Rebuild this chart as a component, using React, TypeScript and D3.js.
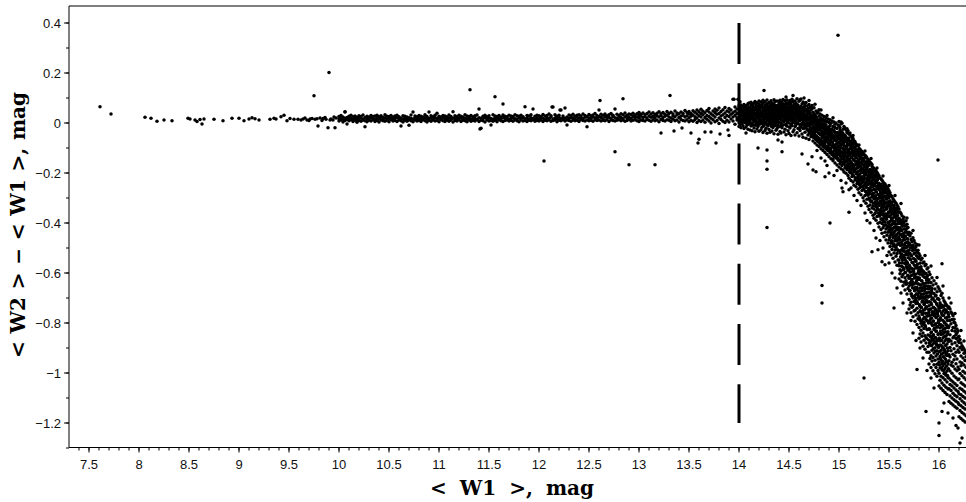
import * as d3 from "d3";
import { useLayoutEffect, useRef } from "react";

const W = 966;
const H = 502;
const left = 69;
const right = 966;
const top = 6;
const bottom = 447.5;

// axis ticks
const xTicks = [7.5, 8, 8.5, 9, 9.5, 10, 10.5, 11, 11.5, 12, 12.5, 13, 13.5, 14, 14.5, 15, 15.5, 16];
const xTickLabels = ["7.5", "8", "8.5", "9", "9.5", "10", "10.5", "11", "11.5", "12", "12.5", "13", "13.5", "14", "14.5", "15", "15.5", "16"];
const yTicks = [0.4, 0.2, 0, -0.2, -0.4, -0.6, -0.8, -1, -1.2];
const yTickLabels = ["0.4", "0.2", "0", "\u22120.2", "\u22120.4", "\u22120.6", "\u22120.8", "\u22121", "\u22121.2"];

// W1 limit (dashed line) and its extent in colour
const cutW1 = 14;
const cutRange = [0.4, -1.2];

// sparse bright stars: [W1, W2-W1] in mag
const brightStars = [
  [7.61, 0.065], [7.72, 0.036], [8.06, 0.023], [8.12, 0.019], [8.18, 0.007], [8.25, 0.012], [8.33, 0.009],
  [8.49, 0.019], [8.51, 0.016], [8.56, 0.012], [8.58, 0.006], [8.61, 0.014], [8.63, -0.004], [8.65, 0.016],
  [8.75, 0.015], [8.84, 0.009], [8.93, 0.019], [9.0, 0.019], [9.05, 0.009], [9.1, 0.016], [9.13, 0.021],
  [9.16, 0.017], [9.2, 0.012], [9.31, 0.015], [9.35, 0.019], [9.37, 0.016], [9.42, 0.025], [9.45, 0.031],
  [9.48, 0.009], [9.51, 0.018], [9.55, 0.015], [9.59, 0.015], [9.62, 0.012], [9.64, 0.016], [9.66, 0.02],
  [9.68, 0.012], [9.7, 0.01], [9.71, 0.016], [9.73, 0.018], [9.75, 0.109], [9.76, 0.015], [9.78, 0.017],
  [9.79, -0.012], [9.81, 0.02], [9.83, 0.01], [9.84, 0.018], [9.86, 0.022], [9.87, 0.015], [9.89, -0.019],
  [9.9, 0.202], [9.91, 0.012], [9.92, 0.016], [9.94, 0.012], [9.95, 0.024], [9.96, -0.019], [9.97, 0.02],
];

// sequence columns: [W1 (mag), W2-W1 values (mmag)]
const flatBand = [
  [10.0, [8, 17, 26]], [10.02, [12, 21, 30]], [10.04, [4, 15, 24]], [10.06, [10, 19, 44]], [10.08, [-4, 14, 22]],
  [10.1, [9, 18, 27]], [10.12, [13, 20, 31]], [10.14, [6, 16, 25]], [10.16, [11, 19, 28]], [10.18, [3, 14, 23]],
  [10.2, [10, 17, 29]], [10.22, [7, 20, 26]], [10.24, [12, 15, 32]], [10.26, [-15, 9, 22]], [10.28, [5, 18, 27]],
  [10.3, [11, 16, 24]], [10.32, [8, 21, 30]], [10.34, [13, 19, 26]], [10.36, [6, 15, 28]], [10.38, [10, 22, 31]],
  [10.4, [4, 17, 25]], [10.42, [12, 18, 29]], [10.44, [9, 14, 23]], [10.46, [7, 20, 33]], [10.48, [11, 16, 27]],
  [10.5, [5, 19, 26]], [10.52, [13, 21, 30]], [10.54, [8, 15, 24]], [10.56, [10, 18, 28]], [10.58, [6, 22, 31]],
  [10.6, [12, 17, 25]], [10.62, [-12, 9, 20]], [10.64, [4, 16, 29]], [10.66, [11, 19, 27]], [10.68, [7, 14, 24]],
  [10.7, [-9, 13, 21]], [10.72, [9, 18, 32]], [10.74, [5, 16, 44]], [10.76, [12, 20, 28]], [10.78, [8, 17, 25]],
  [10.8, [10, 22, 30]], [10.82, [6, 15, 27]], [10.84, [13, 19, 24]], [10.86, [9, 21, 33]], [10.88, [4, 16, 26]],
  [10.9, [11, 18, 44]], [10.92, [7, 20, 29]], [10.94, [12, 15, 25]], [10.96, [8, 22, 31]], [10.98, [10, 17, 39]],
  [11.0, [5, 19, 27]], [11.02, [13, 16, 24]], [11.04, [9, 21, 30]], [11.06, [6, 18, 28]], [11.08, [11, 15, 25]],
  [11.1, [7, 20, 32]], [11.12, [12, 17, 26]], [11.14, [4, 19, 45]], [11.16, [10, 22, 29]], [11.18, [8, 16, 25]],
  [11.2, [13, 18, 31]], [11.22, [6, 21, 27]], [11.24, [11, 15, 24]], [11.26, [9, 19, 33]], [11.28, [5, 17, 28]],
  [11.3, [12, 22, 26]], [11.32, [7, 16, 30]], [11.34, [10, 20, 25]], [11.36, [8, 18, 29]], [11.38, [13, 15, 32]],
  [11.4, [6, 21, 56]], [11.42, [-21, 11, 19]], [11.44, [9, 17, 27]], [11.46, [4, 22, 31]], [11.48, [12, 16, 25]],
  [11.5, [8, 20, 29]], [11.52, [-8, 10, 18]], [11.54, [7, 15, 33]], [11.56, [11, 21, 28]], [11.58, [5, 17, 26]],
  [11.6, [13, 19, 30]], [11.62, [9, 16, 24]], [11.64, [6, 22, 32]], [11.66, [10, 18, 27]], [11.68, [12, 20, 25]],
  [11.7, [8, 15, 31]], [11.72, [11, 19, 28]], [11.74, [7, 21, 26]], [11.76, [13, 17, 33]], [11.78, [9, 16, 29]],
  [11.8, [5, 20, 27]], [11.82, [12, 18, 31]], [11.84, [8, 22, 25]], [11.86, [10, 17, 65]], [11.88, [6, 19, 30]],
  [11.9, [11, 15, 28]], [11.92, [9, 21, 33]], [11.94, [13, 18, 56]], [11.96, [7, 16, 27]], [11.98, [10, 20, 31]],
  [12.0, [8, 17, 29]], [12.02, [12, 22, 26]], [12.04, [6, 19, 34]], [12.06, [11, 15, 28]], [12.08, [9, 21, 30]],
  [12.1, [13, 18, 36]], [12.12, [7, 24, 29]], [12.14, [10, 16, 64]], [12.16, [12, 20, 33]], [12.18, [5, 18, 27]],
  [12.2, [11, 23, 31]], [12.22, [9, 17, 52]], [12.24, [13, 21, 28]], [12.26, [8, 19, 60]], [12.28, [-8, 12, 24]],
  [12.3, [10, 18, 32]], [12.32, [7, 22, 29]], [12.34, [12, 20, 35]], [12.36, [9, 16, 27]], [12.38, [11, 24, 31]],
  [12.4, [6, 19, 33]], [12.42, [13, 21, 28]], [12.44, [10, 17, 36]], [12.46, [8, 23, 30]], [12.48, [-15, 12, 26]],
  [12.5, [9, 20, 34]], [12.52, [11, 18, 29]], [12.54, [7, 24, 32]], [12.56, [13, 21, 38]], [12.58, [10, 19, 30]],
  [12.6, [12, 26, 52]], [12.62, [8, 22, 35]], [12.64, [11, 17, 31]], [12.66, [9, 25, 36]], [12.68, [13, 20, 29]],
  [12.7, [6, 23, 33]], [12.72, [12, 18, 38]], [12.74, [10, 26, 31]], [12.76, [8, 21, 56]], [12.78, [11, 19, 35]],
  [12.8, [13, 24, 30]], [12.82, [9, 22, 37]], [12.84, [12, 17, 33]], [12.86, [7, 25, 40]], [12.88, [10, 20, 31]],
  [12.9, [14, 23, 36]], [12.92, [8, 18, 34]], [12.94, [11, 26, 39]], [12.96, [13, 21, 32]], [12.98, [9, 24, 37]],
  [13.0, [6, 19, 30, 42]], [13.02, [12, 27, 35]], [13.04, [10, 22, 40]], [13.06, [8, 25, 33]], [13.08, [14, 20, 38]],
  [13.1, [11, 28, 44]], [13.12, [7, 23, 36]], [13.14, [13, 26, 41]], [13.16, [9, 21, 34]], [13.18, [12, 29, 39]],
  [13.2, [5, 24, 45]], [13.22, [14, 30, 37]], [13.24, [10, 22, 42]], [13.26, [8, 27, 35]], [13.28, [13, 31, 46]],
  [13.3, [11, 24, 38]], [13.32, [6, 20, 43]], [13.34, [15, 28, 36]], [13.36, [9, 25, 48]], [13.38, [12, 33, 40]],
  [13.4, [4, 22, 37]], [13.42, [14, 27, 44]], [13.44, [10, 31, 39]], [13.46, [8, 24, 50]], [13.48, [13, 29, 42]],
  [13.5, [5, 21, 36, 46]], [13.52, [11, 27, 38]], [13.54, [7, 32, 49]], [13.56, [14, 25, 43]], [13.58, [2, 20, 36, 52]],
  [13.6, [10, 29, 45]], [13.62, [6, 24, 38, 55]], [13.64, [12, 33, 47]], [13.66, [3, 22, 41]], [13.68, [15, 30, 50]],
  [13.7, [8, 26, 44, 58]], [13.72, [0, 19, 37]], [13.74, [13, 31, 48]], [13.76, [5, 24, 42, 56]], [13.78, [10, 35, 51]],
  [13.8, [-2, 20, 38, 60]], [13.82, [14, 28, 46]], [13.84, [7, 33, 53]], [13.86, [2, 22, 40, 62]], [13.88, [11, 30, 48]],
  [13.9, [4, 26, 44, 58]], [13.92, [16, 35, 52]], [13.94, [8, 24, 41, 95]], [13.96, [-5, 30, 47, 64]], [13.98, [12, 21, 38, 56]],
];

const kneeBand = [
  [14.0, [-14, 9, 22, 41, 57, 69]], [14.01, [-6, 16, 33, 48, 63]], [14.02, [-19, 3, 28, 37, 55, 72]], [14.03, [-1, 13, 45, 52, 66]],
  [14.04, [-11, 20, 26, 39, 61]], [14.05, [-22, 6, 31, 47, 58, 74]], [14.06, [2, 17, 35, 50, 68]], [14.07, [-16, 11, 24, 43, 64]],
  [14.08, [-8, 27, 38, 56, 71]], [14.09, [-25, 1, 19, 46, 53, 77]], [14.1, [-4, 14, 30, 41, 62, 80]], [14.11, [-28, 8, 23, 49, 59]],
  [14.12, [-12, 18, 36, 44, 70, 83]], [14.13, [-31, -2, 27, 40, 57, 75]], [14.14, [-9, 12, 32, 51, 66]], [14.15, [-20, 4, 21, 45, 60, 79]],
  [14.16, [-35, 15, 29, 38, 63, 86]], [14.17, [-6, 10, 34, 54, 72]], [14.18, [-24, -1, 25, 42, 58, 81]], [14.19, [-14, 19, 31, 48, 67]],
  [14.2, [-33, 7, 22, 39, 55, 76, 88]], [14.21, [-3, 14, 37, 50, 69]], [14.22, [-27, 2, 26, 44, 61, 84]], [14.23, [-17, 11, 30, 47, 73]],
  [14.24, [-38, -5, 20, 35, 58, 79, 91]], [14.25, [-9, 16, 28, 52, 64]], [14.26, [-30, 5, 24, 41, 60, 85]], [14.27, [-21, -1, 33, 46, 71]],
  [14.28, [-41, 12, 19, 38, 56, 77, 92]], [14.29, [-12, 8, 29, 49, 66]], [14.3, [-26, -4, 23, 36, 54, 82]], [14.31, [-37, 15, 31, 44, 62, 74]],
  [14.32, [-7, 3, 26, 40, 59, 89]], [14.33, [-32, 10, 21, 48, 67, 80]], [14.34, [-18, -6, 34, 51, 71]], [14.35, [-43, 6, 25, 38, 57, 76, 93]],
  [14.36, [-10, 17, 30, 45, 63, 86]], [14.37, [-29, 1, 22, 52, 69]], [14.38, [-22, 13, 35, 42, 60, 88]], [14.39, [-45, -9, 27, 39, 55, 72]],
  [14.4, [-15, 5, 18, 47, 64, 84]], [14.41, [-34, 21, 33, 50, 66, 91]], [14.42, [-40, -2, 24, 43, 58, 78]], [14.43, [-19, 11, 36, 41, 61, 83]],
  [14.44, [-8, 26, 31, 53, 70, 94]], [14.45, [-36, 4, 20, 46, 57, 75]], [14.46, [-25, 14, 34, 40, 63, 89]], [14.47, [-47, -6, 23, 51, 68, 80]],
  [14.48, [-13, 9, 29, 44, 59, 92]], [14.49, [-31, 18, 37, 48, 65, 78]], [14.5, [-42, 0, 25, 39, 56, 85]], [14.51, [-20, 12, 32, 47, 62, 90]],
  [14.52, [-50, -8, 21, 43, 70, 81]], [14.53, [-11, 7, 28, 35, 54, 95]], [14.54, [-35, 16, 38, 49, 67, 86]], [14.55, [-27, 2, 24, 41, 58, 74]],
  [14.56, [-48, -14, 13, 33, 60, 88]], [14.57, [-4, 8, 30, 46, 64, 79]], [14.58, [-39, 19, 26, 45, 69, 97]], [14.59, [-22, -3, 22, 37, 53, 72]],
  [14.6, [-52, 10, 31, 48, 61, 87]], [14.61, [-30, -7, 18, 40, 57, 93]], [14.62, [-14, 14, 27, 44, 66, 96]], [14.63, [-44, 0, 23, 35, 52, 76]],
  [14.64, [-57, -21, 15, 38, 60, 84]], [14.65, [-9, 6, 29, 47, 63, 80]], [14.66, [-37, -5, 19, 33, 55, 71]], [14.67, [-61, -18, 10, 30, 49, 82]],
  [14.68, [-26, 1, 24, 42, 68]], [14.69, [-48, -11, 13, 36, 58]], [14.7, [-66, -35, 1, 24, 47, 74]], [14.71, [-22, -9, 16, 38, 63]],
  [14.72, [-55, -28, 10, 31, 52]], [14.73, [-41, -4, 14, 29, 58, 70]], [14.74, [-72, -47, -16, 22, 43]], [14.75, [-53, -27, 6, 36, 61]],
  [14.76, [-80, -38, -19, 12, 30]], [14.77, [-66, -52, -6, 25, 48]], [14.78, [-88, -31, -12, 17, 39]], [14.79, [-74, -58, -25, 4, 44]],
  [14.8, [-94, -66, -40, -9, 27, 53]], [14.81, [-82, -45, -21, 13, 36]], [14.82, [-103, -73, -29, -2, 19]], [14.83, [-89, -57, -41, 9, 31]],
  [14.84, [-110, -80, -50, -18, 15]], [14.85, [-97, -35, -12, 5, 26]], [14.86, [-118, -88, -63, -26, 10]], [14.87, [-104, -71, -44, -7, 20]],
  [14.88, [-126, -95, -58, -33, 6]], [14.89, [-111, -79, -48, -16, 16]], [14.9, [-135, -102, -68, -37, -20, 2]], [14.91, [-120, -86, -55, -10, 13]],
  [14.92, [-143, -110, -75, -46, -1]], [14.93, [-127, -92, -61, -24, 8]], [14.94, [-151, -118, -84, -52, -14]], [14.95, [-133, -100, -66, -30, 4]],
  [14.96, [-160, -125, -91, -57, -18, -5]], [14.97, [-140, -107, -72, -39, 0]], [14.98, [-168, -131, -97, -63, -22]], [14.99, [-148, -114, -79, -44, -8]],
];

const faintBand = [
  [15.0, [-176, -150, -96, -81, -47, -12, 6]], [15.01, [-162, -123, -109, -64, -30, -18]], [15.02, [-183, -137, -88, -71, -55, -4]],
  [15.03, [-170, -144, -117, -59, -36, -1]], [15.04, [-188, -129, -101, -78, -42, -25]], [15.05, [-196, -158, -140, -92, -61, -14]],
  [15.06, [-179, -131, -113, -70, -49, -20]], [15.07, [-201, -167, -121, -104, -57, -28]], [15.08, [-186, -152, -95, -79, -38, -23]],
  [15.09, [-210, -174, -133, -118, -66, -31]], [15.1, [-221, -169, -146, -107, -60, -45]], [15.11, [-198, -182, -127, -89, -74, -40]],
  [15.12, [-230, -191, -155, -139, -98, -52]], [15.13, [-214, -162, -120, -103, -68, -56]], [15.14, [-236, -208, -177, -131, -86, -62]],
  [15.15, [-249, -196, -149, -124, -97, -71]], [15.16, [-228, -185, -168, -112, -80, -75]], [15.17, [-255, -219, -160, -138, -93, -84]],
  [15.18, [-242, -203, -181, -126, -108, -88]], [15.19, [-265, -222, -171, -150, -115, -91]], [15.2, [-279, -237, -212, -163, -131, -102]],
  [15.21, [-258, -226, -189, -144, -120, -105]], [15.22, [-287, -244, -199, -176, -137, -111]], [15.23, [-270, -215, -192, -158, -128, -114]],
  [15.24, [-299, -253, -231, -184, -147, -119]], [15.25, [-312, -263, -221, -170, -152, -126]], [15.26, [-290, -248, -207, -188, -139, -130]],
  [15.27, [-321, -274, -236, -195, -160, -133]], [15.28, [-305, -281, -228, -179, -164, -140]], [15.29, [-333, -289, -245, -217, -172, -146]],
  [15.3, [-346, -302, -277, -233, -200, -168, -151]], [15.31, [-328, -310, -259, -214, -186, -157]], [15.32, [-357, -315, -268, -247, -205, -161]],
  [15.33, [-340, -296, -284, -231, -193, -174, -166]], [15.34, [-369, -331, -290, -252, -221, -178]], [15.35, [-381, -344, -303, -265, -240, -196, -182]],
  [15.36, [-362, -318, -297, -250, -213, -187]], [15.37, [-389, -352, -326, -275, -238, -209, -191]], [15.38, [-374, -337, -311, -262, -229, -198]],
  [15.39, [-401, -360, -322, -286, -254, -218, -204]], [15.4, [-416, -371, -348, -301, -266, -241, -211]], [15.41, [-397, -363, -319, -284, -257, -220]],
  [15.42, [-426, -384, -356, -312, -279, -246, -223]], [15.43, [-441, -402, -367, -330, -293, -262, -229]], [15.44, [-419, -389, -340, -306, -272, -236]],
  [15.45, [-455, -410, -378, -351, -314, -280, -248, -241]], [15.46, [-437, -396, -365, -322, -297, -258, -244]], [15.47, [-468, -424, -383, -344, -319, -276, -251]],
  [15.48, [-449, -412, -371, -336, -302, -268, -257]], [15.49, [-480, -437, -399, -361, -328, -289, -263]], [15.5, [-516, -468, -429, -403, -357, -324, -298, -271]],
  [15.51, [-494, -452, -418, -375, -343, -311, -279]], [15.52, [-527, -481, -446, -409, -368, -336, -290]], [15.53, [-506, -473, -427, -390, -359, -317, -295]],
  [15.54, [-541, -493, -458, -421, -380, -348, -303]], [15.55, [-520, -486, -439, -401, -366, -330, -310]], [15.56, [-556, -508, -470, -432, -394, -352, -316]],
  [15.57, [-533, -497, -451, -417, -379, -341, -321]], [15.58, [-569, -522, -487, -445, -404, -370, -328]], [15.59, [-548, -510, -465, -426, -391, -356, -335]],
  [15.6, [-624, -571, -548, -479, -455, -402, -381, -344]], [15.61, [-603, -587, -520, -466, -431, -419, -356]], [15.62, [-633, -592, -534, -509, -447, -390, -362]],
  [15.63, [-615, -560, -541, -488, -427, -408, -371]], [15.64, [-651, -606, -577, -512, -469, -450, -385]], [15.65, [-637, -584, -529, -501, -458, -396, -377]],
  [15.66, [-668, -619, -598, -540, -482, -437, -412]], [15.67, [-645, -631, -565, -519, -494, -426, -391]], [15.68, [-684, -641, -580, -556, -497, -463, -405]],
  [15.69, [-662, -609, -589, -527, -475, -443, -418]], [15.7, [-744, -706, -652, -621, -577, -509, -483, -437]], [15.71, [-728, -670, -639, -596, -544, -522, -452]],
  [15.72, [-759, -717, -684, -611, -580, -531, -466, -441]], [15.73, [-737, -693, -648, -626, -558, -497, -475]], [15.74, [-775, -731, -700, -637, -592, -560, -489, -459]],
  [15.75, [-752, -714, -662, -603, -584, -523, -470]], [15.76, [-793, -749, -690, -667, -615, -546, -505, -480]], [15.77, [-768, -722, -702, -641, -578, -552, -494]],
  [15.78, [-806, -741, -715, -658, -627, -571, -517, -486]], [15.79, [-783, -759, -688, -644, -600, -537, -509]], [15.8, [-861, -818, -772, -704, -679, -626, -583, -540, -523]],
  [15.81, [-844, -789, -751, -733, -661, -605, -561, -531]], [15.82, [-876, -829, -801, -738, -692, -648, -575, -548]], [15.83, [-853, -812, -763, -716, -670, -632, -589, -541]],
  [15.84, [-893, -840, -784, -759, -701, -644, -612, -560]], [15.85, [-869, -822, -797, -726, -683, -655, -598, -556]], [15.86, [-905, -851, -809, -745, -718, -663, -617, -571]],
  [15.87, [-880, -859, -786, -737, -694, -640, -602, -566]], [15.88, [-917, -863, -826, -772, -711, -679, -620, -584]], [15.89, [-894, -848, -794, -760, -697, -652, -629, -579]],
  [15.9, [-964, -917, -869, -823, -758, -731, -676, -627, -596]], [15.91, [-942, -886, -851, -788, -747, -693, -653, -606]], [15.92, [-978, -931, -873, -839, -780, -719, -681, -638]],
  [15.93, [-952, -909, -862, -805, -766, -705, -662, -619]], [15.94, [-991, -938, -884, -851, -793, -739, -701, -648]], [15.95, [-967, -920, -872, -826, -771, -756, -683, -631]],
  [15.96, [-1003, -949, -899, -861, -808, -742, -714, -664]], [15.97, [-978, -932, -881, -834, -779, -763, -690, -643]], [15.98, [-1013, -965, -911, -872, -817, -751, -727, -675]],
  [15.99, [-990, -944, -893, -846, -798, -770, -702, -655]], [16.0, [-1052, -1001, -957, -889, -861, -793, -741, -706, -663]], [16.01, [-1029, -980, -934, -872, -820, -785, -719, -672]],
  [16.02, [-1061, -1013, -948, -909, -846, -807, -738, -690]], [16.03, [-1040, -988, -962, -893, -833, -768, -729, -681]], [16.04, [-1070, -1019, -971, -920, -859, -812, -752, -700]],
  [16.05, [-1049, -1002, -937, -903, -840, -795, -733, -711]], [16.06, [-1078, -1027, -982, -916, -871, -822, -760, -718]], [16.07, [-1057, -1009, -955, -926, -852, -804, -749, -725]],
  [16.08, [-1086, -1036, -992, -930, -884, -818, -777, -731]], [16.09, [-1064, -1018, -964, -911, -866, -835, -758, -740]], [16.1, [-1114, -1063, -1021, -951, -927, -865, -812, -776, -736]],
  [16.11, [-1092, -1046, -992, -936, -898, -847, -790, -744]], [16.12, [-1121, -1070, -1029, -968, -911, -872, -803, -756]], [16.13, [-1100, -1052, -1001, -957, -884, -830, -786, -762]],
  [16.14, [-1128, -1081, -1036, -973, -925, -859, -818, -771]], [16.15, [-1107, -1060, -1012, -947, -903, -854, -797, -785]], [16.16, [-1135, -1089, -1043, -984, -932, -879, -833, -800]],
  [16.17, [-1113, -1068, -1019, -963, -917, -862, -846, -810]], [16.18, [-1141, -1095, -1050, -991, -944, -891, -839, -824]], [16.19, [-1119, -1074, -1027, -976, -908, -871, -857, -832]],
  [16.2, [-1175, -1126, -1083, -1024, -985, -917, -878, -853]], [16.21, [-1150, -1103, -1061, -1002, -956, -898, -866]], [16.22, [-1182, -1131, -1087, -1039, -971, -932, -880]],
  [16.23, [-1158, -1112, -1066, -1011, -960, -907, -891]], [16.24, [-1189, -1138, -1094, -1045, -993, -940, -898]], [16.25, [-1164, -1119, -1073, -1019, -968, -921, -904]],
  [16.26, [-1196, -1144, -1100, -1052, -1000, -950, -912]], [16.27, [-1171, -1126, -1080, -1027, -977, -935, -920]],
];

// dense core of the turn-off and faint sequence (between the columns above)
const coreBand = [
  [14.005, [4, 21, 38, 52]], [14.025, [-3, 15, 33, 47]], [14.045, [10, 26, 44, 58]], [14.065, [1, 18, 29, 50]],
  [14.085, [-6, 12, 36, 55]], [14.105, [7, 24, 41, 61]], [14.125, [-2, 19, 31, 48]], [14.145, [12, 27, 45, 63]],
  [14.165, [-9, 8, 35, 56]], [14.185, [3, 22, 39, 60]], [14.205, [-5, 14, 30, 52, 68]], [14.225, [9, 25, 43, 64]],
  [14.245, [-12, 6, 34, 49]], [14.265, [2, 20, 37, 58, 71]], [14.285, [-8, 16, 28, 53]], [14.305, [5, 23, 46, 66]],
  [14.325, [-14, 11, 32, 57]], [14.345, [-1, 18, 40, 62, 74]], [14.365, [8, 27, 44, 69]], [14.385, [-10, 4, 35, 55]],
  [14.405, [1, 21, 38, 60, 76]], [14.425, [-13, 13, 30, 51, 70]], [14.445, [6, 25, 47, 65]], [14.465, [-7, 17, 33, 58, 73]],
  [14.485, [3, 10, 42, 63]], [14.505, [-16, 20, 36, 54, 75]], [14.525, [-4, 12, 29, 49, 67]], [14.545, [7, 24, 45, 61]],
  [14.565, [-11, 15, 38, 56, 72]], [14.585, [0, 22, 31, 52, 66]], [14.605, [-19, 9, 27, 44, 63]], [14.625, [-6, 16, 35, 58]],
  [14.645, [-22, 4, 24, 41, 60]], [14.665, [-12, 13, 30, 50]], [14.685, [-28, -3, 19, 37, 55]],
  [14.705, [-41, -12, 19]], [14.715, [-29, 3, 31]], [14.725, [-50, -21, 8]], [14.735, [-36, -2, 24]], [14.745, [-58, -15, 12]],
  [14.755, [-44, -27, 17]], [14.765, [-63, -6, 9]], [14.775, [-52, -33, -1]], [14.785, [-70, -19, 6]], [14.795, [-61, -40, -8, 11]],
  [14.805, [-77, -26, 2]], [14.815, [-68, -47, -13]], [14.825, [-85, -31, -4]], [14.835, [-59, -38, -19]], [14.845, [-92, -71, -10]],
  [14.855, [-80, -45, -24, -2]], [14.865, [-98, -56, -15]], [14.875, [-74, -37, -29]], [14.885, [-106, -63, -21]], [14.895, [-90, -50, -34]],
  [14.905, [-112, -81, -44, -25]], [14.915, [-101, -67, -30]], [14.925, [-119, -55, -39]], [14.935, [-95, -76, -28]], [14.945, [-128, -88, -49]],
  [14.955, [-110, -62, -36]], [14.965, [-134, -97, -70, -41]], [14.975, [-118, -84, -53]], [14.985, [-141, -104, -66, -38]], [14.995, [-125, -93, -58]],
  [15.005, [-148, -113, -77, -44]], [15.015, [-131, -98, -63, -40]], [15.025, [-155, -86, -52]], [15.035, [-139, -120, -71, -47]], [15.045, [-162, -106, -80, -55]],
  [15.055, [-147, -128, -91, -60]], [15.065, [-170, -115, -73]], [15.075, [-154, -135, -99, -66]], [15.085, [-181, -142, -87, -62]], [15.095, [-163, -124, -108, -70]],
  [15.105, [-193, -150, -117, -83]], [15.115, [-172, -159, -102, -75]], [15.125, [-201, -138, -121, -88]], [15.135, [-185, -166, -111, -80]], [15.145, [-212, -176, -145, -95]],
  [15.155, [-193, -130, -118, -101]], [15.165, [-221, -184, -153, -106]], [15.175, [-204, -168, -139, -112]], [15.185, [-233, -195, -161, -123]], [15.195, [-214, -177, -148, -117]],
  [15.205, [-247, -206, -170, -134]], [15.215, [-229, -190, -157, -126]], [15.225, [-255, -218, -183, -141]], [15.235, [-238, -199, -166, -147]], [15.245, [-266, -227, -191, -152]],
  [15.255, [-249, -210, -176, -140]], [15.265, [-274, -239, -201, -164]], [15.275, [-258, -222, -186, -155]], [15.285, [-285, -247, -209, -170]], [15.295, [-268, -233, -196, -161]],
  [15.305, [-301, -262, -225, -188]], [15.315, [-283, -244, -210, -193]], [15.325, [-312, -270, -236, -199]], [15.335, [-294, -255, -218, -186]], [15.345, [-321, -281, -243, -207]],
  [15.355, [-304, -266, -229, -195]], [15.365, [-333, -291, -252, -217]], [15.375, [-314, -276, -238, -204]], [15.385, [-345, -302, -261, -226]], [15.395, [-326, -287, -249, -212]],
  [15.405, [-372, -330, -291, -253]], [15.415, [-351, -313, -274, -247]], [15.425, [-384, -341, -300, -262]], [15.435, [-362, -323, -283, -255]], [15.445, [-395, -352, -312, -271]],
  [15.455, [-373, -334, -293, -266]], [15.465, [-407, -364, -321, -280]], [15.475, [-385, -344, -305, -274]], [15.485, [-418, -375, -333, -290]], [15.495, [-396, -356, -315, -283]],
  [15.505, [-459, -414, -372, -331]], [15.515, [-437, -393, -352, -320]], [15.525, [-471, -426, -383, -341]], [15.535, [-448, -404, -361, -328]], [15.545, [-483, -438, -394, -350]],
  [15.555, [-460, -416, -373, -339]], [15.565, [-495, -450, -405, -360]], [15.575, [-472, -427, -384, -348]], [15.585, [-507, -461, -417, -370]], [15.595, [-484, -439, -395, -357]],
  [15.605, [-560, -512, -466, -421, -384]], [15.615, [-536, -490, -445, -402]], [15.625, [-573, -524, -478, -431, -393]], [15.635, [-549, -502, -455, -413]], [15.645, [-586, -537, -489, -442, -401]],
  [15.655, [-561, -514, -467, -424]], [15.665, [-598, -549, -500, -452, -410]], [15.675, [-574, -527, -478, -436]], [15.685, [-611, -561, -512, -463, -419]], [15.695, [-586, -539, -490, -446]],
  [15.705, [-671, -620, -570, -521, -483]], [15.715, [-646, -596, -547, -500]], [15.725, [-684, -632, -582, -531, -491]], [15.735, [-659, -608, -558, -510]], [15.745, [-696, -645, -593, -542, -499]],
  [15.755, [-671, -620, -569, -520]], [15.765, [-709, -657, -605, -553, -508]], [15.775, [-683, -632, -580, -531]], [15.785, [-721, -669, -617, -564, -517]], [15.795, [-695, -644, -591, -541]],
  [15.805, [-780, -727, -673, -620, -578]], [15.815, [-754, -701, -648, -597]], [15.825, [-792, -738, -684, -631, -586]], [15.835, [-766, -712, -659, -607]], [15.845, [-803, -749, -695, -642, -594]],
  [15.855, [-777, -723, -670, -617]], [15.865, [-815, -761, -706, -652, -602]], [15.875, [-789, -735, -681, -628]], [15.885, [-826, -772, -717, -663, -611]], [15.895, [-800, -746, -692, -638]],
  [15.905, [-880, -825, -770, -715, -662]], [15.915, [-854, -799, -744, -690]], [15.925, [-891, -836, -781, -726, -671]], [15.935, [-865, -810, -755, -700]], [15.945, [-902, -847, -792, -737, -681]],
  [15.955, [-876, -821, -766, -711]], [15.965, [-913, -858, -803, -748, -692]], [15.975, [-887, -832, -777, -722]], [15.985, [-924, -869, -814, -759, -703]], [15.995, [-898, -843, -788, -733]],
  [16.005, [-968, -915, -861, -806, -751]], [16.015, [-942, -888, -834, -779, -727]], [16.025, [-979, -925, -870, -815, -760]], [16.035, [-953, -899, -844, -789, -736]], [16.045, [-990, -935, -880, -825, -770]],
  [16.055, [-963, -909, -854, -799, -746]], [16.065, [-1000, -945, -890, -835, -780]], [16.075, [-973, -919, -864, -809, -756]], [16.085, [-1010, -955, -900, -845, -790]], [16.095, [-983, -929, -874, -819, -766]],
];

// stars scattered just outside the edges of the faint sequence: [W1, W2-W1] in mag
const bandScatter = [
  [14.78, -0.11], [14.82, -0.14], [14.88, -0.17], [14.95, -0.21], [14.98, -0.19], [15.02, -0.23], [15.07, -0.24],
  [15.12, -0.26], [15.15, -0.29], [15.18, -0.31], [15.22, -0.33], [15.26, -0.36], [15.28, -0.39], [15.31, -0.4],
  [15.35, -0.43], [15.37, -0.46], [15.41, -0.47], [15.44, -0.5], [15.48, -0.53], [15.5, -0.56], [15.53, -0.6],
  [15.56, -0.62], [15.58, -0.66], [15.62, -0.68], [15.64, -0.72], [15.68, -0.76], [15.72, -0.79], [15.74, -0.84],
  [15.77, -0.87], [15.81, -0.9], [15.84, -0.94], [15.88, -0.99], [15.92, -1.02], [15.95, -1.06], [16.05, -1.12],
  [16.09, -1.16], [16.14, -1.18], [16.17, -1.21],
  [14.7, 0.09], [14.76, 0.075], [14.82, 0.052], [14.88, 0.03], [14.94, 0.021], [15.02, 0.004], [15.08, -0.028],
  [15.14, -0.05], [15.2, -0.088], [15.26, -0.112], [15.32, -0.142], [15.38, -0.18], [15.44, -0.212], [15.5, -0.25],
  [15.56, -0.29], [15.62, -0.322], [15.68, -0.38], [15.74, -0.43], [15.8, -0.488], [15.86, -0.53], [15.92, -0.572],
  [15.98, -0.618], [16.04, -0.652], [16.1, -0.7], [16.16, -0.762], [16.22, -0.83], [16.25, -0.872],
];

// isolated points off the sequence: [W1, W2-W1] in mag
const outliers = [
  [11.31, 0.133], [11.56, 0.105], [11.64, 0.076], [12.61, 0.09], [12.84, 0.097], [13.31, 0.11], [14.25, 0.13],
  [13.95, 0.095], [13.99, 0.095], [14.54, 0.11], [14.65, 0.1], [14.99, 0.351], [15.99, -0.148], [12.05, -0.152],
  [12.76, -0.115], [12.9, -0.167], [13.16, -0.167], [14.28, -0.418], [14.91, -0.4], [15.1, -0.357], [14.83, -0.65],
  [14.83, -0.72], [15.25, -1.02], [15.78, -0.986], [15.87, -1.154], [16.0, -1.2], [16.0, -1.25], [16.19, -1.22],
  [16.21, -1.28], [16.23, -1.26], [16.03, -0.563], [15.55, -0.74], [15.33, -0.515], [15.39, -0.507], [15.43, -0.555],
  [15.46, -0.567], [16.12, -0.72], [16.16, -0.82], [16.03, -1.154], [14.19, -0.1], [14.28, -0.108], [14.28, -0.152],
  [14.28, -0.185], [14.43, -0.115], [13.59, -0.08], [13.6, -0.065], [13.77, -0.08], [13.52, -0.04], [13.66, -0.036],
  [13.72, -0.036], [13.81, -0.044], [13.89, -0.028], [14.07, -0.04], [13.43, -0.02], [13.22, -0.04], [14.63, -0.124],
  [14.73, -0.135], [14.69, -0.164], [14.74, -0.188], [14.77, -0.195], [14.86, -0.152], [14.86, -0.215], [14.9, -0.2],
  [14.94, -0.144], [15.03, -0.26], [15.04, -0.275], [15.1, -0.267], [14.43, -0.076], [14.39, -0.068], [12.13, 0.064],
  [12.21, 0.052], [10.06, 0.045], [11.41, -0.024], [13.35, -0.032], [13.9, -0.05], [14.01, 0.085], [14.47, 0.104],
];

const columnsToPoints = (cols) => cols.flatMap(([w1, cs]) => cs.map((c) => [w1, c / 1000]));

const points = [
  ...brightStars,
  ...columnsToPoints(flatBand),
  ...columnsToPoints(kneeBand),
  ...columnsToPoints(faintBand),
  ...columnsToPoints(coreBand),
  ...bandScatter,
  ...outliers,
];

const x = d3.scaleLinear().domain([7.3, 16.27]).range([left, right]);
const y = d3.scaleLinear().domain([-1.298, 0.468]).range([bottom, top]);

const xMinor = d3.range(74, 163).map((d) => d / 10);
const yMinor = d3.range(-13, 5).map((d) => d / 10);

// bold serif title, widened at the spaces to the reference width
function AxisTitle({ text, width, transform }) {
  const ref = useRef(null);
  useLayoutEffect(() => {
    const el = ref.current;
    if (!el) return;
    el.style.wordSpacing = "0px";
    const natural = el.getComputedTextLength();
    const spaces = (text.match(/ /g) || []).length;
    el.style.wordSpacing = `${Math.max(0, (width - natural) / spaces)}px`;
  }, [text, width]);
  return (
    <text ref={ref} transform={transform} textAnchor="middle" style={{ whiteSpace: "pre" }}>
      {text}
    </text>
  );
}

export default function App() {
  return (
    <div>
      <style>{"body{margin:0}"}</style>
      <svg width={W} height={H} style={{ display: "block", background: "#fff" }}>
        <defs>
          <clipPath id="plot">
            <rect x={left} y={top} width={right - left} height={bottom - top} />
          </clipPath>
        </defs>

        <g clipPath="url(#plot)" fill="#000">
          {points.map((p, i) => (
            <circle key={i} cx={x(p[0])} cy={y(p[1])} r={1.75} />
          ))}
        </g>

        <line
          x1={x(cutW1)}
          x2={x(cutW1)}
          y1={y(cutRange[0])}
          y2={y(cutRange[1])}
          stroke="#000"
          strokeWidth={3}
          strokeDasharray="41 19.2"
        />

        <path d={`M${right},${top}H${left}V${bottom}H${right}`} fill="none" stroke="#000" strokeWidth={1} />

        <g stroke="#000" strokeWidth={1}>
          {xMinor.map((t) => (
            <line key={t} x1={x(t)} x2={x(t)} y1={bottom} y2={bottom + 3} />
          ))}
          {xTicks.map((t) => (
            <line key={t} x1={x(t)} x2={x(t)} y1={bottom} y2={bottom + 5} />
          ))}
          {yMinor.map((t) => (
            <line key={t} x1={left - 3} x2={left} y1={y(t)} y2={y(t)} />
          ))}
          {yTicks.map((t) => (
            <line key={t} x1={left - 5} x2={left} y1={y(t)} y2={y(t)} />
          ))}
        </g>

        <g fontFamily="'Liberation Sans', Arial, sans-serif" fontSize={13} fill="#111">
          {xTicks.map((t, i) => (
            <text key={t} x={x(t)} y={469} textAnchor="middle">
              {xTickLabels[i]}
            </text>
          ))}
          {yTicks.map((t, i) => (
            <text key={t} x={61} y={y(t)} dy="0.35em" textAnchor="end">
              {yTickLabels[i]}
            </text>
          ))}
        </g>

        <g fontFamily="'DejaVu Serif', 'Liberation Serif', serif" fontWeight="bold" fontSize={20} fill="#000">
          <AxisTitle text="< W1 >, mag" width={164} transform="translate(512,495)" />
          <AxisTitle text={"< W2 > \u2212 < W1 >, mag"} width={266} transform="translate(25,225) rotate(-90)" />
        </g>
      </svg>
    </div>
  );
}
